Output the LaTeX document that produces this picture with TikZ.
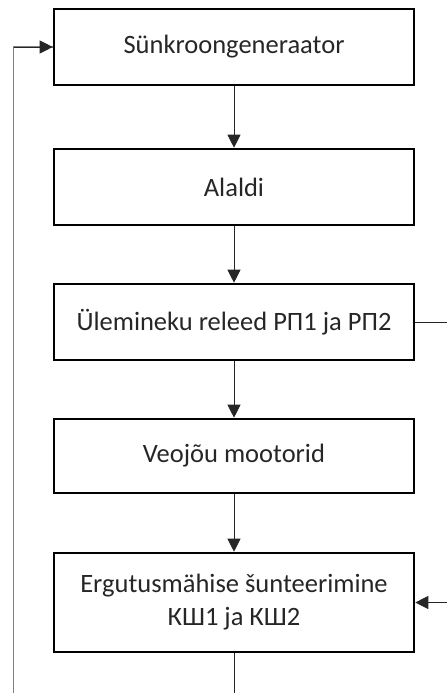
\documentclass[tikz,border=0pt]{standalone}
\usepackage{fontspec}
\setmainfont{Carlito}
\usetikzlibrary{arrows.meta,positioning}

\begin{document}
\begin{tikzpicture}[x=1pt, y=-1pt, >={Triangle[length=13pt,width=13pt]},
  blk/.style={draw, line width=2.6pt, minimum width=360pt, minimum height=76pt,
    inner sep=0pt, align=center, font=\fontsize{26.5}{33}\selectfont, text=black!85},
  flow/.style={->, line width=0.9pt, black!85},
  back/.style={line width=1.2pt, black!50}]
\useasboundingbox (0,0) rectangle (447,693);
% the chain of blocks
\node[blk] (gen) at (234,47) {Sünkroongeneraator};
\node[blk] (ala) at (234,187) {Alaldi};
\node[blk] (rel) at (234,322) {Ülemineku releed РП1 ja РП2};
\node[blk, minimum height=74pt] (mot) at (234,456) {Veojõu mootorid};
\node[blk, minimum height=99pt] (shu) at (234,602.5)
  {Ergutusmähise šunteerimine\\КШ1 ja КШ2};
% free ends at the edges
\coordinate (bot) at (234,693);
\coordinate (lft) at (13.5,693);
\coordinate (rout) at (447,322);
\coordinate (rin) at (447,602.5);
\draw[flow] (gen) -- (ala);
\draw[flow] (ala) -- (rel);
\draw[flow] (rel) -- (mot);
\draw[flow] (mot) -- (shu);
\draw[flow, -] (shu) -- (bot);
\draw[flow, -] (rel) -- (rout);
\draw[flow] (rin) -- (shu);
% feedback on the left
\draw[back] (lft) |- (gen.west);
\draw[flow] (13.5,47) -- (gen);
\end{tikzpicture}
\end{document}
